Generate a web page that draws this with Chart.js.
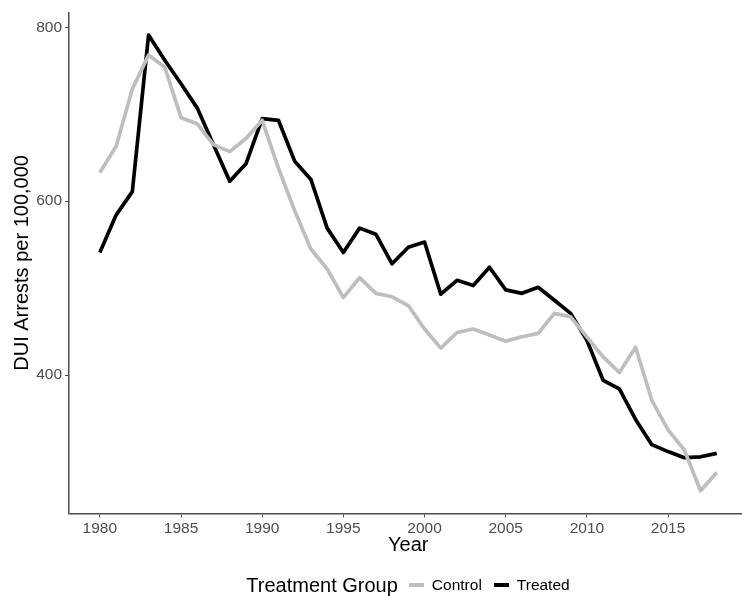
<!DOCTYPE html>
<html>
<head>
<meta charset="utf-8">
<script src="https://cdn.jsdelivr.net/npm/chart.js@4/dist/chart.umd.min.js"></script>
<style>
  html, body { margin: 0; padding: 0; background: #ffffff; overflow: hidden; }
  #wrap { position: relative; width: 760px; height: 596px; }
  #legend {
    position: absolute; left: 0; width: 816px; top: 572px; height: 26px;
    display: flex; justify-content: center; align-items: center;
    font-family: "Liberation Sans", Arial, sans-serif; color: #000;
  }
  #legend .ttl { font-size: 20px; margin-right: 11px; }
  #legend .key { display: inline-block; width: 15px; height: 4px; margin-right: 8px; }
  #legend .lab { font-size: 15.5px; margin-right: 12px; }
  #legend .lab:last-child { margin-right: 0; }
</style>
</head>
<body>
<div id="wrap">
  <canvas id="chart" width="760" height="596"></canvas>
  <div id="legend"></div>
</div>
<script>
// DUI arrests per 100,000 by year, treated vs. control states
const years = [1980,1981,1982,1983,1984,1985,1986,1987,1988,1989,
               1990,1991,1992,1993,1994,1995,1996,1997,1998,1999,
               2000,2001,2002,2003,2004,2005,2006,2007,2008,2009,
               2010,2011,2012,2013,2014,2015,2016,2017,2018];

const controlValues = [633,663,729,768,754,696,689,665,657,672,
                       693,638,589,545,522,489,512,494,490,480,
                       453,431,449,453,446,439,444,448,471,467,
                       444,421,403,432,371,337,314,267,288];

const treatedValues = [541,584,611,791,762,735,707,665,623,643,
                       695,693,646,625,569,541,569,562,528,547,
                       553,493,509,503,524,498,494,501,486,471,
                       440,394,384,349,320,312,305,306,310];

const xTickValues = [1980,1985,1990,1995,2000,2005,2010,2015];
const yTickValues = [400,600,800];

const groupNames = ['Control','Treated'];
const groupColors = ['#bebebe','#000000'];

const toPoints = (vals) => years.map((y, i) => ({x: y, y: vals[i]}));

const FONT = '"Liberation Sans", Arial, sans-serif';

new Chart(document.getElementById('chart'), {
  type: 'line',
  data: {
    datasets: [
      { label: groupNames[0], data: toPoints(controlValues) },
      { label: groupNames[1], data: toPoints(treatedValues) }
    ].map((d, i) => Object.assign(d, {
      borderColor: groupColors[i],
      backgroundColor: groupColors[i],
      borderWidth: 3.7,
      pointRadius: 0,
      tension: 0,
      fill: false,
      borderJoinStyle: 'round',
      borderCapStyle: 'butt'
    }))
  },
  options: {
    responsive: false,
    animation: false,
    layout: { padding: { top: 10, right: 12.4, left: 0, bottom: 32.5 } },
    plugins: { legend: { display: false }, tooltip: { enabled: false } },
    scales: {
      x: {
        type: 'linear',
        min: 1978.1,
        max: 2019.9,
        afterBuildTicks: (s) => { s.ticks = xTickValues.map(v => ({value: v})); },
        afterFit: (s) => { s.height = 50; },
        grid: { drawOnChartArea: false, drawTicks: true, tickLength: 4, color: '#4d4d4d', lineWidth: 1 },
        border: { display: true, color: '#4d4d4d', width: 1.5 },
        ticks: {
          autoSkip: false, maxRotation: 0, padding: 2,
          color: '#4d4d4d', font: { family: FONT, size: 15.5 },
          callback: (v) => String(v)
        },
        title: { display: true, text: 'Year', color: '#000', font: { family: FONT, size: 20 }, padding: { top: 0, bottom: 6.5 } }
      },
      y: {
        type: 'linear',
        min: 240.8,
        max: 817.2,
        afterBuildTicks: (s) => { s.ticks = yTickValues.map(v => ({value: v})); },
        afterFit: (s) => { s.width = 69; },
        grid: { drawOnChartArea: false, drawTicks: true, tickLength: 4, color: '#4d4d4d', lineWidth: 1 },
        border: { display: true, color: '#4d4d4d', width: 1.5 },
        ticks: {
          padding: 3, color: '#4d4d4d', font: { family: FONT, size: 15.5 },
          callback: (v) => String(v)
        },
        title: { display: true, text: 'DUI Arrests per 100,000', color: '#000', font: { family: FONT, size: 20 }, padding: { top: 10, bottom: 0 } }
      }
    }
  }
});

// Legend row: title followed by a short line key per group
const legend = document.getElementById('legend');
const ttl = document.createElement('span');
ttl.className = 'ttl';
ttl.textContent = 'Treatment Group';
legend.appendChild(ttl);
groupNames.forEach((name, i) => {
  const key = document.createElement('span');
  key.className = 'key';
  key.style.background = groupColors[i];
  legend.appendChild(key);
  const lab = document.createElement('span');
  lab.className = 'lab';
  lab.textContent = name;
  legend.appendChild(lab);
});
</script>
</body>
</html>
